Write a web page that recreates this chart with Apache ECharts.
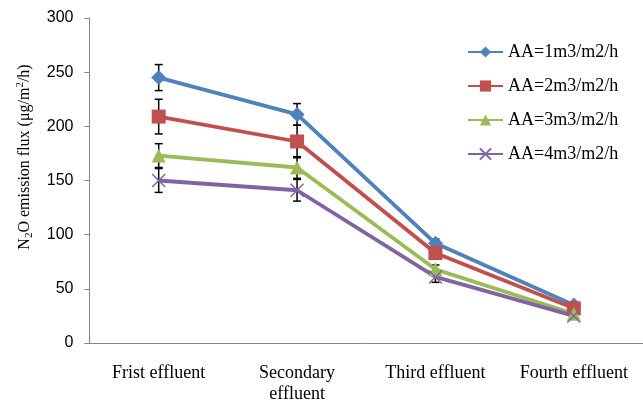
<!DOCTYPE html>
<html>
<head>
<meta charset="utf-8">
<script src="https://cdn.jsdelivr.net/npm/echarts@6/dist/echarts.min.js"></script>
<style>
html,body{margin:0;padding:0;background:#fff;}
#chart{width:643px;height:405px;}
</style>
</head>
<body>
<div id="chart"></div>
<script>
var categories = ['Frist effluent', 'Secondary\neffluent', 'Third effluent', 'Fourth effluent'];
var seriesNames = ['AA=1m3/m2/h', 'AA=2m3/m2/h', 'AA=3m3/m2/h', 'AA=4m3/m2/h'];
var aa1 = [245, 211, 92, 35];
var aa2 = [209, 186, 83, 32];
var aa3 = [173, 162, 68, 27];
var aa4 = [150, 141, 61, 25];
var err1 = [12, 10, 4, 2];
var err2 = [16, 15, 4, 2];
var err3 = [11, 10, 4, 2];
var err4 = [11, 10, 5, 2];
var yTicks = [0, 50, 100, 150, 200, 250, 300];

var values = [aa1, aa2, aa3, aa4];
var errs = [err1, err2, err3, err4];
var colors = ['#4F81BD', '#C0504D', '#9BBB59', '#8064A2'];
var symbols = ['diamond', 'rect', 'triangle', 'path://M0,0L10,10M10,0L0,10'];
var symSizes = [15, 14, 14, 13];

var errData = [];
for (var s = 0; s < values.length; s++) {
  for (var i = 0; i < categories.length; i++) {
    errData.push([i, values[s][i] - errs[s][i], values[s][i] + errs[s][i]]);
  }
}

var series = [{
  type: 'custom',
  name: 'err',
  z: 1,
  silent: true,
  data: errData,
  renderItem: function (params, api) {
    var lo = api.coord([api.value(0), api.value(1)]);
    var hi = api.coord([api.value(0), api.value(2)]);
    var x = lo[0], hw = 4;
    var st = {stroke: '#000', lineWidth: 1.5};
    return {type: 'group', children: [
      {type: 'line', shape: {x1: x, y1: lo[1], x2: x, y2: hi[1]}, style: st},
      {type: 'line', shape: {x1: x - hw, y1: lo[1], x2: x + hw, y2: lo[1]}, style: st},
      {type: 'line', shape: {x1: x - hw, y1: hi[1], x2: x + hw, y2: hi[1]}, style: st}
    ]};
  }
}];
for (var k = 0; k < values.length; k++) {
  series.push({
    type: 'line',
    name: seriesNames[k],
    data: values[k],
    z: 3,
    symbol: symbols[k],
    symbolSize: symSizes[k],
    showAllSymbol: true,
    lineStyle: {color: colors[k], width: 3.8},
    itemStyle: k === 3 ? {color: colors[k], borderColor: colors[k], borderWidth: 1.5} : {color: colors[k], borderColor: colors[k], borderWidth: 0},
    emphasis: {disabled: true},
    animation: false
  });
}

var chart = echarts.init(document.getElementById('chart'), null, {renderer: 'canvas'});
chart.setOption({
  animation: false,
  backgroundColor: '#fff',
  grid: {left: 89.5, right: -10.5, top: 18, bottom: 58, containLabel: false},
  xAxis: {
    type: 'category',
    data: categories,
    boundaryGap: true,
    axisLine: {lineStyle: {color: '#868686', width: 1}},
    axisTick: {show: false},
    axisLabel: {
      interval: 0,
      margin: 20,
      color: '#000',
      fontFamily: 'Liberation Serif',
      fontSize: 18,
      lineHeight: 21
    }
  },
  yAxis: {
    type: 'value',
    min: yTicks[0],
    max: yTicks[yTicks.length - 1],
    interval: 50,
    splitLine: {show: false},
    axisLine: {show: true, lineStyle: {color: '#868686', width: 1}},
    axisTick: {show: true, inside: false, length: 5, lineStyle: {color: '#868686'}},
    axisLabel: {
      margin: 16,
      color: '#000',
      fontFamily: 'Liberation Sans',
      fontSize: 16
    }
  },
  legend: {
    orient: 'vertical',
    left: 467,
    top: 42,
    padding: 0,
    itemWidth: 35,
    itemHeight: 14,
    itemGap: 14,
    data: seriesNames,
    textStyle: {
      color: '#000',
      fontFamily: 'Liberation Serif',
      fontSize: 18,
      lineHeight: 20
    }
  },
  graphic: [{
    type: 'text',
    x: 25,
    y: 157,
    rotation: Math.PI / 2,
    style: {
      text: '{a|N}{s|2}{a|O emission flux (μg/m}{p|2}{a|/h)}',
      textAlign: 'center',
      textVerticalAlign: 'middle',
      fill: '#000',
      rich: {
        a: {fontFamily: 'Liberation Serif', fontSize: 16, lineHeight: 20, verticalAlign: 'middle'},
        s: {fontFamily: 'Liberation Serif', fontSize: 11, lineHeight: 20, verticalAlign: 'bottom', padding: [6, 0, 0, 0]},
        p: {fontFamily: 'Liberation Serif', fontSize: 11, lineHeight: 20, verticalAlign: 'top', padding: [0, 0, 6, 0]}
      }
    }
  }],
  series: series
});
</script>
</body>
</html>
